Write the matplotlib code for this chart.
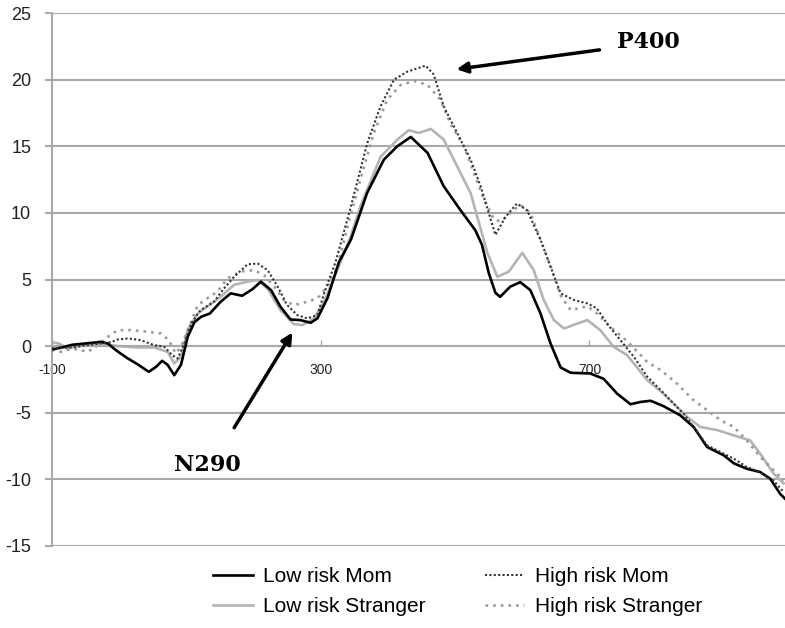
import matplotlib
matplotlib.use('Agg')
import matplotlib.pyplot as plt

# ERP waveforms, time in ms, amplitude in microvolts
t_low_mom = [-100, -85, -70, -50, -27, -17, -5, 13, 27, 44, 55, 64, 72, 82, 92, 102,
             112, 122, 135, 151, 166, 183, 198, 211, 226, 240, 255, 270, 285, 295,
             310, 327, 345, 369, 394, 414, 434, 459, 483, 508, 530, 540, 550, 560,
             567, 582, 597, 612, 627, 642, 657, 672, 701, 721, 741, 761, 776, 791,
             810, 835, 855, 875, 900, 915, 934, 954, 969, 984, 991]
v_low_mom = [-0.25, -0.1, 0.1, 0.2, 0.32, 0.2, -0.3, -0.93, -1.35, -1.93, -1.55, -1.1,
             -1.4, -2.18, -1.4, 0.7, 1.8, 2.2, 2.45, 3.33, 3.96, 3.78, 4.26, 4.84,
             4.2, 2.96, 2.0, 1.95, 1.75, 2.08, 3.6, 6.3, 8.0, 11.5, 14.0, 15.0, 15.7,
             14.5, 12.0, 10.2, 8.7, 7.6, 5.5, 4.0, 3.7, 4.46, 4.8, 4.2, 2.46, 0.2,
             -1.6, -2.0, -2.05, -2.45, -3.56, -4.36, -4.19, -4.1, -4.5, -5.19, -6.07,
             -7.57, -8.2, -8.8, -9.2, -9.45, -9.95, -11.1, -11.45]

t_low_str = [-100, -90, -77, -60, -45, -27, -2, 27, 52, 72, 82, 92, 102, 117, 131,
             151, 171, 191, 206, 221, 240, 260, 273, 290, 305, 327, 345, 359, 389,
             414, 431, 446, 464, 483, 503, 523, 533, 548, 563, 580, 600, 617, 632,
             647, 662, 682, 697, 716, 736, 756, 766, 786, 810, 830, 845, 865, 890,
             915, 939, 954, 974, 989]
v_low_str = [0.3, 0.2, -0.17, 0.0, 0.1, 0.2, 0.0, -0.1, -0.1, -0.43, -1.3, -0.8, 1.2,
             2.46, 2.96, 3.7, 4.6, 4.84, 4.96, 4.3, 2.7, 1.65, 1.58, 2.08, 3.33, 6.0,
             8.3, 10.5, 14.2, 15.5, 16.2, 16.0, 16.3, 15.5, 13.5, 11.5, 9.7, 7.0, 5.2,
             5.6, 7.0, 5.7, 3.46, 1.95, 1.32, 1.7, 1.95, 1.2, -0.05, -0.68, -1.3,
             -2.56, -3.56, -4.56, -5.3, -6.07, -6.3, -6.7, -7.07, -8.07, -9.57, -10.3]

t_high_mom = [-100, -70, -45, -27, -12, -2, 13, 32, 52, 67, 79, 87, 97, 107, 121, 141,
              156, 171, 191, 206, 221, 236, 250, 265, 280, 295, 305, 322, 345, 369,
              389, 409, 429, 456, 468, 483, 503, 523, 538, 553, 560, 575, 592, 607,
              627, 642, 657, 677, 697, 711, 726, 746, 766, 786, 806, 825, 840, 855,
              875, 895, 915, 934, 954, 974, 989]
v_high_mom = [-0.17, -0.1, 0.1, 0.2, 0.3, 0.5, 0.58, 0.45, 0.07, -0.05, -0.68, -0.93,
              0.2, 1.7, 2.7, 3.33, 4.33, 5.2, 6.14, 6.2, 5.7, 4.46, 3.08, 2.33, 2.08,
              2.33, 3.96, 6.3, 10.5, 15.2, 18.0, 20.0, 20.6, 21.05, 20.4, 18.0, 16.0,
              14.0, 12.0, 9.5, 8.35, 9.7, 10.7, 10.2, 8.0, 5.96, 3.96, 3.46, 3.2,
              2.83, 1.7, 0.45, -0.8, -2.3, -3.3, -4.3, -5.06, -6.07, -7.44, -7.95,
              -8.45, -9.07, -9.45, -10.1, -10.95]

t_high_str = [-100, -87, -70, -57, -47, -35, -17, -2, 17, 42, 62, 74, 84, 92, 104, 117,
              131, 146, 161, 181, 201, 216, 231, 245, 260, 280, 295, 310, 325, 340,
              359, 379, 399, 419, 439, 459, 478, 493, 513, 528, 543, 558, 568, 582,
              597, 612, 627, 642, 657, 672, 697, 711, 731, 751, 771, 786, 806, 830,
              855, 875, 895, 915, 934, 954, 974, 989]
v_high_str = [-0.3, -0.43, -0.2, -0.3, -0.43, -0.05, 0.7, 1.2, 1.2, 1.08, 0.95, 0.45,
              -0.55, -0.05, 1.45, 3.08, 3.58, 4.08, 5.08, 5.6, 5.7, 5.3, 4.46, 3.46,
              3.08, 3.33, 3.58, 4.46, 5.96, 9.0, 12.5, 16.0, 18.5, 19.6, 19.9, 19.6,
              18.5, 16.7, 15.0, 13.0, 11.0, 9.5, 9.35, 10.0, 10.6, 10.0, 8.0, 6.0,
              3.8, 2.7, 3.0, 2.46, 1.45, 0.6, -0.4, -1.2, -1.8, -2.8, -4.06, -4.8,
              -5.56, -6.07, -7.07, -8.3, -9.3, -10.07]

y_ticks = [-15, -10, -5, 0, 5, 10, 15, 20, 25]
x_ticks = [-100, 300, 700]

plt.rcParams['font.family'] = ['Liberation Sans', 'DejaVu Sans']

fig = plt.figure(figsize=(7.85, 6.28), dpi=100)
ax = fig.add_axes([52 / 785, 1 - 546 / 628, 1 - 52 / 785, (546 - 13) / 628])

grid_c = '#a9a9a9'
for yv in y_ticks:
    ax.axhline(yv, color=grid_c, lw=1.5, zorder=1)

ax.plot(t_low_mom, v_low_mom, color='black', lw=1.9, label='Low risk Mom', zorder=3)
ax.plot(t_low_str, v_low_str, color='#b4b4b4', lw=1.9, label='Low risk Stranger', zorder=2)
ax.plot(t_high_mom, v_high_mom, color='#333333', lw=1.5, ls=(0, (1, 1.1)),
        label='High risk Mom', zorder=4)
ax.plot(t_high_str, v_high_str, color='#9a9a9a', lw=1.9, ls=(0, (1, 1.9)),
        label='High risk Stranger', zorder=2)

ax.set_xlim(-100, 991)
ax.set_ylim(-15, 25)

for s in ['top', 'right']:
    ax.spines[s].set_visible(False)
ax.spines['left'].set_color(grid_c)
ax.spines['left'].set_linewidth(1.5)
ax.spines['bottom'].set_position(('data', 0))
ax.spines['bottom'].set_color(grid_c)
ax.spines['bottom'].set_linewidth(1.5)

ax.set_yticks(y_ticks)
ax.set_yticklabels([str(v) for v in y_ticks])
ax.tick_params(axis='y', length=5, width=1.5, color=grid_c, pad=10,
               labelsize=13, labelcolor='#222222')
ax.set_xticks(x_ticks)
ax.set_xticklabels([str(v) for v in x_ticks])
ax.tick_params(axis='x', direction='in', length=4, width=1, color=grid_c, pad=12,
               labelsize=10, labelcolor='#222222')

# component annotations
ax.annotate('', xy=(498, 20.75), xytext=(719, 22.26),
            arrowprops=dict(arrowstyle='-|>', lw=2.5, color='black', mutation_scale=16))
ax.text(741, 22.8, 'P400', fontsize=16, fontweight='bold', family='DejaVu Serif',
        ha='left', va='center')
ax.annotate('', xy=(260, 1.2), xytext=(169, -6.3),
            arrowprops=dict(arrowstyle='-|>', lw=2.5, color='black', mutation_scale=16))
ax.text(132, -8.9, 'N290', fontsize=16, fontweight='bold', family='DejaVu Serif',
        ha='center', va='center')

fig.legend(loc='upper left', bbox_to_anchor=(213 / 785, 1 - 567 / 628), ncol=2,
           frameon=False, fontsize=15, handlelength=1.9, handletextpad=0.5,
           labelspacing=0.52, columnspacing=2.85, borderpad=0, borderaxespad=0)

fig.savefig('out.png', dpi=100)
